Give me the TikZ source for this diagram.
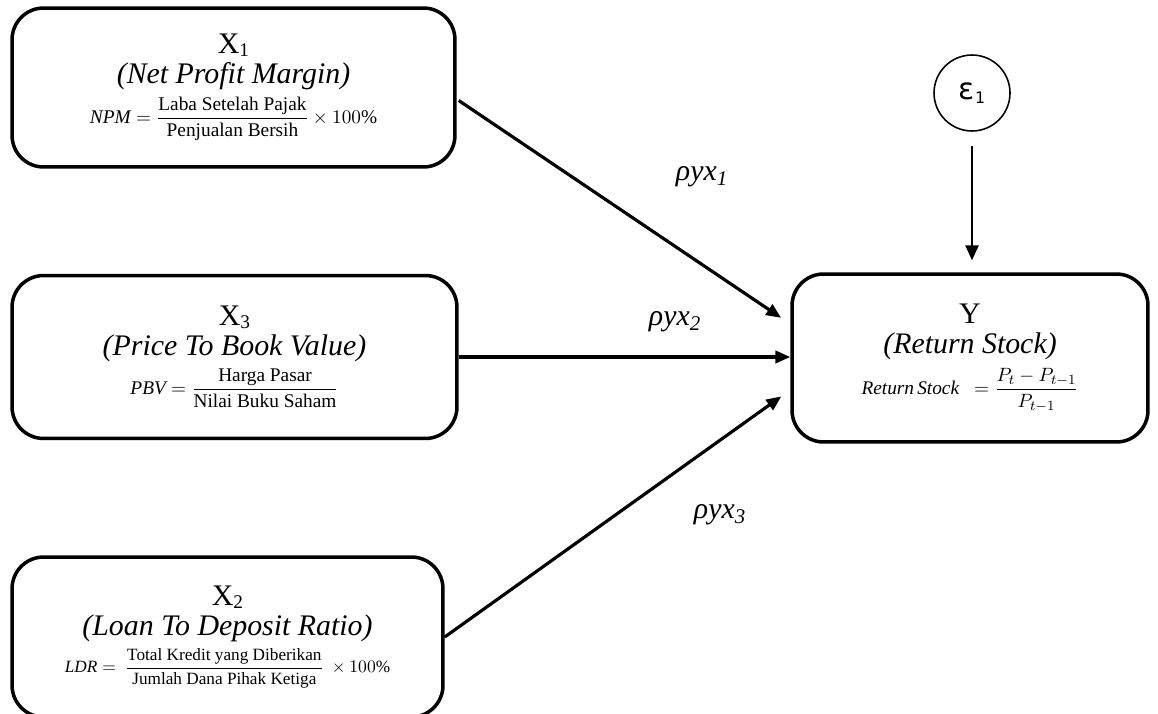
\documentclass[tikz,border=0pt]{standalone}
\usepackage{amsmath}
\usepackage{fontspec}
\setmainfont{Liberation Serif}
\newfontfamily\epsfont{DejaVu Sans}
\usetikzlibrary{
  arrows.meta,
  calc,
  positioning
}
\newcommand\varsub[1]{\raisebox{-0.2ex}{\fontsize{11}{12}\selectfont #1}}

\begin{document}
\begin{tikzpicture}[x=0.02cm,y=-0.02cm,
  varbox/.style={draw,line width=2pt,rounded corners=18pt,align=center,
    inner sep=0pt,font=\fontsize{17}{17}\selectfont},
  pathline/.style={-{Triangle[length=8.5pt,width=7pt]},line width=1.8pt},
  errline/.style={-{Triangle[length=8.5pt,width=7.5pt]},line width=1pt},
  coef/.style={font=\fontsize{17}{18}\selectfont\itshape}
]
  \useasboundingbox (0,0) rectangle (1158,713);

  \node[varbox,minimum width=8.86cm,minimum height=3.18cm] (X1) at (233.5,87.5) {
    X\varsub{1}\\
    \textit{(Net Profit Margin)}\\[3pt]
    {\fontsize{11}{13}\selectfont
      $\mathit{NPM} = \dfrac{\text{Laba Setelah Pajak}}{\text{Penjualan Bersih}} \times 100\%$}
  };
  \node[varbox,minimum width=8.9cm,minimum height=3.26cm] (X3) at (234.5,357) {
    X\varsub{3}\\
    \textit{(Price To Book Value)}\\[3pt]
    {\fontsize{11}{13}\selectfont
      $\mathit{PBV} = \dfrac{\text{Harga Pasar}}{\text{Nilai Buku Saham}}$}
  };
  \node[varbox,minimum width=8.62cm,minimum height=3.2cm] (X2) at (227.5,637) {
    X\varsub{2}\\
    \textit{(Loan To Deposit Ratio)}\\[3pt]
    {\fontsize{9.8}{12}\selectfont
      $\mathit{LDR} =\ \dfrac{\text{Total Kredit yang Diberikan}}{\text{Jumlah Dana Pihak Ketiga}}\ \times 100\%$}
  };
  \node[varbox,minimum width=7.12cm,minimum height=3.36cm] (Y) at (970,358) {
    Y\\
    \textit{(Return Stock)}\\[4pt]
    {\fontsize{11}{13}\selectfont
      $\mathit{Return\,Stock}\ \ = \dfrac{P_t - P_{t-1}}{P_{t-1}}$}
  };
  \node[draw,circle,line width=0.9pt,minimum size=1.52cm,inner sep=0pt,
    font=\epsfont\fontsize{17}{18}\selectfont] (eps) at (972,93)
    {ε\raisebox{-0.25ex}{\fontsize{9}{10}\selectfont 1}};

  % path coefficients
  \node[coef] (rho1) at (702,177) {ρyx\textsubscript{1}};
  \node[coef] (rho2) at (675,322) {ρyx\textsubscript{2}};
  \node[coef] (rho3) at (720,515) {ρyx\textsubscript{3}};

  \coordinate (out1) at ($(X1.east)+(2,13)$);
  \coordinate (in1) at ($(Y.west)+(0,-34)$);
  \coordinate (in3) at ($(Y.west)+(0,32)$);

  \draw[pathline,shorten >=0.22cm] (out1) -- (in1);
  \draw[pathline] (X3.east) -- (X3.east -| Y.west);
  \draw[pathline,shorten >=0.22cm] (X2.east) -- (in3);
  \draw[errline,shorten <=0.28cm,shorten >=0.24cm] (eps.south) -- (eps.south |- Y.north);
\end{tikzpicture}
\end{document}
